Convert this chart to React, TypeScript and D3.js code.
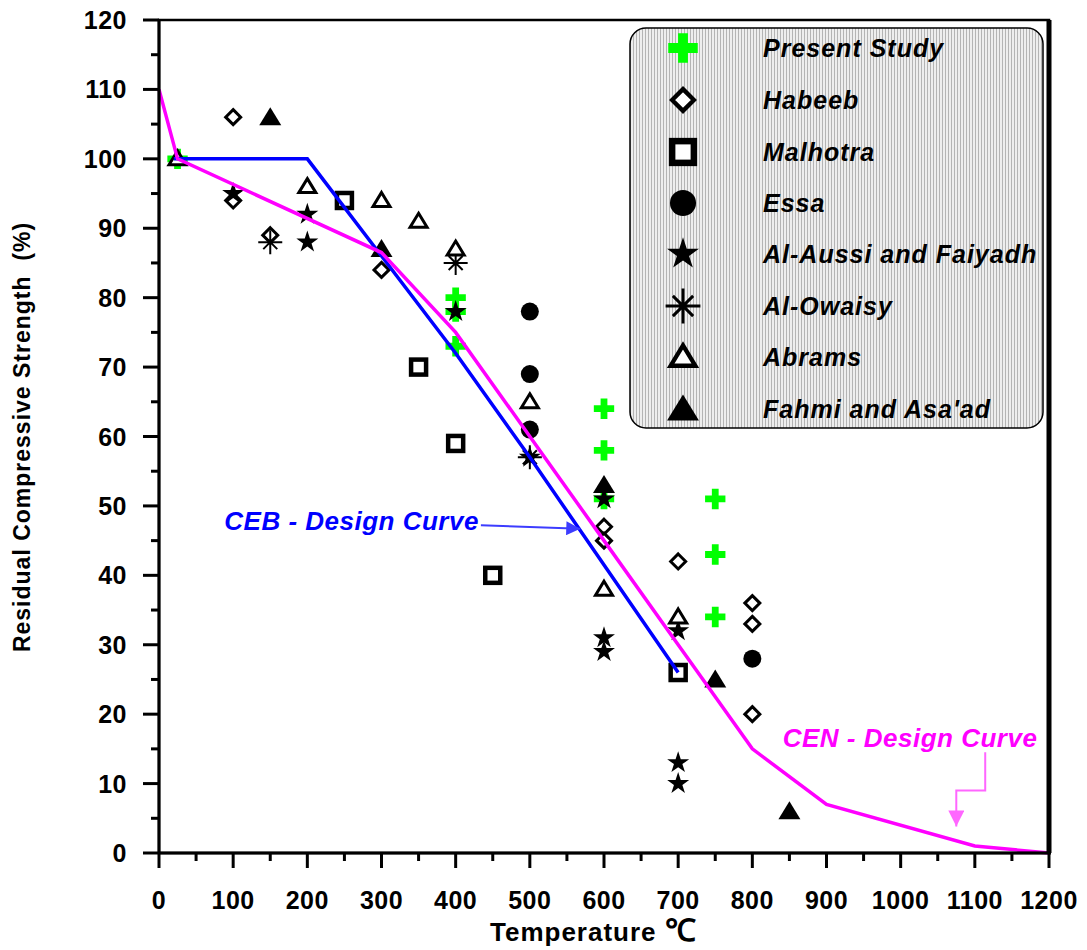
import React from "react";
import * as d3 from "d3";

// series: [temperature, residual strength %]
const presentStudy = [[25, 100], [400, 80], [400, 78], [400, 73], [600, 64], [600, 58], [600, 51], [750, 51], [750, 43], [750, 34]];
const habeeb = [[100, 106], [100, 94], [150, 89], [300, 84], [600, 47], [600, 45], [700, 42], [800, 36], [800, 33], [800, 20]];
const malhotra = [[250, 94], [350, 70], [400, 59], [450, 40], [700, 26]];
const essa = [[500, 78], [500, 69], [500, 61], [800, 28]];
const alAussi = [[100, 95], [200, 92], [200, 88], [400, 78], [500, 57], [600, 51], [600, 31], [600, 29], [700, 32], [700, 13], [700, 10]];
const alOwaisy = [[150, 88], [400, 85], [500, 57]];
const abrams = [[25, 100], [200, 96], [300, 94], [350, 91], [400, 87], [500, 65], [600, 38], [700, 34]];
const fahmi = [[150, 106], [300, 87], [600, 53], [750, 25], [850, 6]];

const cebCurve = [[20, 100], [200, 100], [300, 86], [400, 72], [500, 57], [700, 26]];
const cenCurve = [[0, 110], [25, 100], [300, 86.5], [400, 75], [500, 60], [600, 45], [700, 30], [800, 15], [900, 7], [1100, 1], [1200, 0]];

const xTicks = [0, 100, 200, 300, 400, 500, 600, 700, 800, 900, 1000, 1100, 1200];
const yTicks = [0, 10, 20, 30, 40, 50, 60, 70, 80, 90, 100, 110, 120];

const series = [
  { name: "Present Study", kind: "plus", data: presentStudy },
  { name: "Habeeb", kind: "diamond", data: habeeb },
  { name: "Malhotra", kind: "square", data: malhotra },
  { name: "Essa", kind: "circle", data: essa },
  { name: "Al-Aussi and Faiyadh", kind: "star", data: alAussi },
  { name: "Al-Owaisy", kind: "asterisk", data: alOwaisy },
  { name: "Abrams", kind: "openTri", data: abrams },
  { name: "Fahmi and Asa'ad", kind: "fillTri", data: fahmi },
];

const W = 1087, H = 950;
const margin = { top: 20, right: 38, bottom: 97, left: 159 };
const FONT = "'Liberation Sans', Arial, sans-serif";

function Marker({ kind, x, y, s = 1 }: { kind: string; x: number; y: number; s?: number }) {
  const t = `translate(${x},${y}) scale(${s})`;
  switch (kind) {
    case "plus":
      return <path transform={t} d={d3.symbol(d3.symbolCross, 230)()!} fill="#00ff00" />;
    case "diamond":
      return <path transform={t} d="M0,-7.5L7.5,0L0,7.5L-7.5,0Z" fill="#fff" stroke="#000" strokeWidth={3} />;
    case "square":
      return <rect transform={t} x={-7.5} y={-7.5} width={15} height={15} fill="#fff" stroke="#000" strokeWidth={4.5} />;
    case "circle":
      return <circle transform={t} r={9} fill="#000" />;
    case "star":
      return <path transform={t} d={d3.symbol(d3.symbolStar, 150)()!} fill="#000" />;
    case "asterisk":
      return (
        <path transform={t} d="M0,-12V12M-12,0H12M-7,-7L7,7M-7,7L7,-7" stroke="#000" strokeWidth={2} fill="none" />
      );
    case "openTri":
      return <path transform={t} d="M0,-8L8.5,6L-8.5,6Z" fill="#fff" stroke="#000" strokeWidth={3} strokeLinejoin="miter" />;
    case "fillTri":
      return <path transform={t} d="M0,-10L11,8L-11,8Z" fill="#000" />;
    default:
      return null;
  }
}

export default function App() {
  const iw = W - margin.left - margin.right;
  const ih = H - margin.top - margin.bottom;
  const x = d3.scaleLinear().domain([0, 1200]).range([0, iw]);
  const y = d3.scaleLinear().domain([0, 120]).range([ih, 0]);
  const line = d3.line<number[]>().x((d) => x(d[0])).y((d) => y(d[1]));

  const xMinor = d3.range(50, 1200, 100);
  const yMinor = d3.range(5, 120, 10);

  const legendRows = [48, 100, 152, 203, 254, 306, 357, 409];

  return (
    <svg width={W} height={H} style={{ position: "absolute", left: 0, top: 0, background: "#fff" }} fontFamily={FONT}>
      <defs>
        <pattern id="hatch" width="3" height="3" patternUnits="userSpaceOnUse">
          <rect width="3" height="3" fill="#eeeeee" />
          <rect width="1" height="3" fill="#b4b4b4" />
        </pattern>
        <marker id="arrBlue" viewBox="0 0 10 10" refX="10" refY="5" markerWidth="16" markerHeight="14" markerUnits="userSpaceOnUse" orient="auto">
          <path d="M0,0L10,5L0,10Z" fill="#3c3cff" />
        </marker>
        <marker id="arrPink" viewBox="0 0 10 10" refX="10" refY="5" markerWidth="20" markerHeight="16" markerUnits="userSpaceOnUse" orient="auto">
          <path d="M0,0L10,5L0,10Z" fill="#ff66ff" />
        </marker>
      </defs>
      <g transform={`translate(${margin.left},${margin.top})`}>
        {/* legend box */}
        <rect x={630 - margin.left} y={8} width={413} height={400} rx={16} fill="url(#hatch)" stroke="#000" strokeWidth={1.5} />

        {/* data markers */}
        {series.map((s) => (
          <g key={s.name}>
            {s.data.map((d, i) => (
              <Marker key={i} kind={s.kind} x={x(d[0])} y={y(d[1])} />
            ))}
          </g>
        ))}

        {/* design curves */}
        <path d={line(cebCurve)!} fill="none" stroke="#0000ff" strokeWidth={3.5} />
        <path d={line(cenCurve)!} fill="none" stroke="#ff00ff" strokeWidth={3.5} />

        {/* frame */}
        <rect x={0} y={0} width={iw} height={ih} fill="none" stroke="#000" strokeWidth={2.5} />
        <line x1={iw} y1={0} x2={iw} y2={ih} stroke="#000" strokeWidth={5} />
        <line x1={0} y1={-1} x2={0} y2={ih + 1} stroke="#000" strokeWidth={3} />
        <line x1={-1} y1={ih} x2={iw + 2} y2={ih} stroke="#000" strokeWidth={3} />

        {/* y ticks */}
        {yTicks.map((v) => (
          <g key={v}>
            <line x1={-16} x2={0} y1={y(v)} y2={y(v)} stroke="#000" strokeWidth={3} />
            <text x={-32} y={y(v)} dy="0.36em" textAnchor="end" fontSize={25} letterSpacing={0.5} fontWeight="bold">{v}</text>
          </g>
        ))}
        {yMinor.map((v) => (
          <line key={v} x1={-8} x2={0} y1={y(v)} y2={y(v)} stroke="#000" strokeWidth={3} />
        ))}

        {/* x ticks */}
        {xTicks.map((v) => (
          <g key={v}>
            <line x1={x(v)} x2={x(v)} y1={ih} y2={ih + 15} stroke="#000" strokeWidth={3} />
            <text x={x(v)} y={ih + 56} textAnchor="middle" fontSize={25} letterSpacing={0.5} fontWeight="bold">{v}</text>
          </g>
        ))}
        {xMinor.map((v) => (
          <line key={v} x1={x(v)} x2={x(v)} y1={ih} y2={ih + 8} stroke="#000" strokeWidth={3} />
        ))}

        {/* annotations */}
        <text x={x(88)} y={y(46.5)} fontSize={26} letterSpacing={0.5} fontWeight="bold" fontStyle="italic" fill="#0000ff">CEB - Design Curve</text>
        <line x1={x(434)} y1={y(47.2)} x2={x(568)} y2={y(46.7)} stroke="#3c3cff" strokeWidth={2} markerEnd="url(#arrBlue)" />
        <text x={x(841)} y={y(15.3)} fontSize={26} letterSpacing={0.5} fontWeight="bold" fontStyle="italic" fill="#ff00ff">CEN - Design Curve</text>
        <polyline
          points={`${x(1114)},${y(14.5)} ${x(1114)},${y(9)} ${x(1075)},${y(9)} ${x(1075)},${y(3.8)}`}
          fill="none" stroke="#ff66ff" strokeWidth={2} markerEnd="url(#arrPink)"
        />

        {/* legend entries */}
        {series.map((s, i) => (
          <g key={s.name}>
            <Marker kind={s.kind} x={683 - margin.left} y={legendRows[i] - margin.top} s={1.45} />
            <text x={763 - margin.left} y={legendRows[i] - margin.top} dy="0.36em" fontSize={25} letterSpacing={1} fontWeight="bold" fontStyle="italic">{s.name}</text>
          </g>
        ))}
      </g>

      {/* axis titles */}
      <text x={490} y={941} fontSize={26} letterSpacing={1} fontWeight="bold">
        Temperature <tspan fontSize={31} letterSpacing={0}>℃</tspan>
      </text>
      <text transform="translate(30,437) rotate(-90)" textAnchor="middle" fontSize={23} letterSpacing={1} fontWeight="bold">
        {"Residual Compressive Strength\u00a0 (%)"}
      </text>
    </svg>
  );
}
